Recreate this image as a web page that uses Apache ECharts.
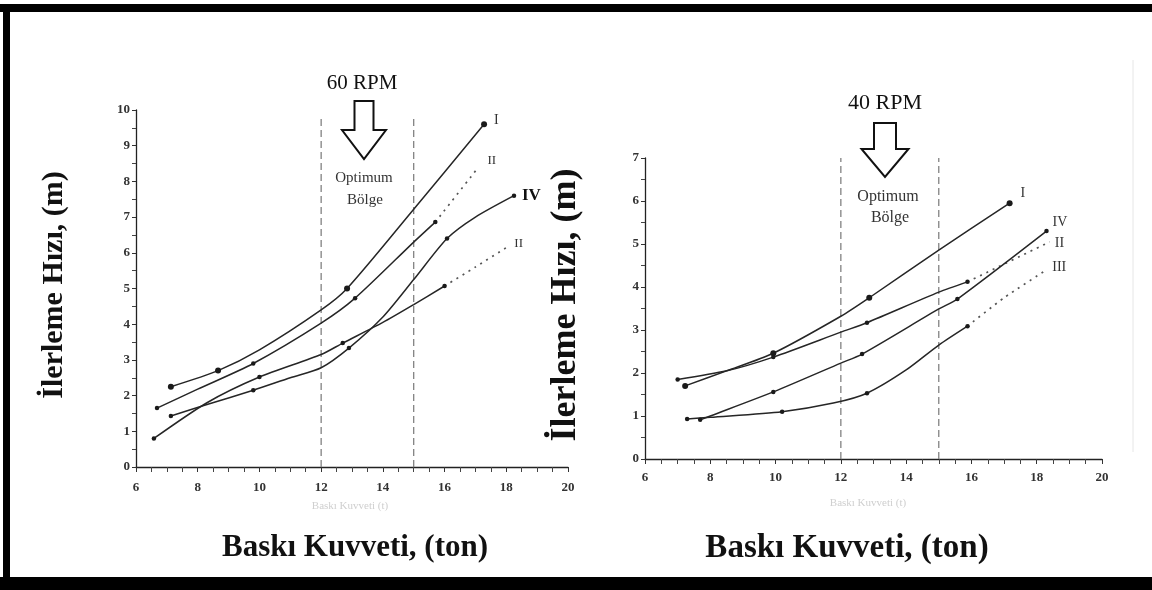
<!DOCTYPE html>
<html>
<head>
<meta charset="utf-8">
<script src="https://cdn.jsdelivr.net/npm/echarts@6/dist/echarts.min.js"></script>
<style>
html,body{margin:0;padding:0;background:#fff}
#c{width:1152px;height:590px}
</style>
</head>
<body>
<div id="c"></div>
<script>
// ---- data: [baskı kuvveti (ton), ilerleme hızı, 1 = measured point] ----
// 60 RPM
const rpm60_I   = [[7.13,2.25,1],[8.66,2.7,1],[10,3.28],[12,4.4],[12.84,5.0,1],[15,7.22],[17.28,9.6,1]];
const rpm60_II  = [[6.68,1.65,1],[8,2.18],[9.8,2.9,1],[12,4.03],[13.1,4.73,1],[15,6.3],[15.7,6.86,1]];
const rpm60_IIx = [[15.7,6.86],[17.1,8.4]];
const rpm60_IV  = [[7.13,1.43,1],[8.3,1.75],[9.8,2.15,1],[11,2.5],[12,2.78],[12.9,3.33,1],[14,4.2],[15,5.25],[16.08,6.4,1],[17,7.0],[18.25,7.6,1]];
const rpm60_II2 = [[6.58,0.8,1],[8.3,1.8],[10,2.52,1],[12,3.15],[12.7,3.47,1],[14,4.05],[15,4.55],[16,5.07,1]];
const rpm60_II2x= [[16,5.07],[17,5.6],[18.1,6.2]];
// 40 RPM
const rpm40_I   = [[7.23,1.7,1],[8.5,2.05],[9.93,2.46,1],[12,3.32],[12.87,3.75,1],[15,4.86],[17.17,5.95,1]];
const rpm40_II  = [[7.0,1.85,1],[8.5,2.05],[9.93,2.37,1],[12,2.95],[12.8,3.17,1],[15,3.88],[15.88,4.12,1]];
const rpm40_IIx = [[15.88,4.12],[18.4,5.05]];
const rpm40_IV  = [[7.69,0.91,1],[8,1.0],[9.93,1.56,1],[12,2.23],[12.65,2.44,1],[15,3.49],[15.57,3.72,1],[18.3,5.3,1]];
const rpm40_III = [[7.29,0.93,1],[8,0.97],[10.2,1.1,1],[11.77,1.3],[12.8,1.53,1],[14,2.07],[15,2.65],[15.88,3.09,1]];
const rpm40_IIIx= [[15.88,3.09],[17,3.75],[18.2,4.35]];

// optimum zone borders and axis ranges
const optimumZone = [12, 15];
const xRange = [6, 20];
const yRange60 = [0, 10];
const yRange40 = [0, 7];
const zoneTop60 = 9.85;

const titles = {
  rpm60: '60 RPM', rpm40: '40 RPM',
  zone: ['Optimum', 'Bölge'],
  xName: 'Baskı Kuvveti, (ton)',
  yName: 'İlerleme Hızı, (m)',
  xFaint: 'Baskı Kuvveti (t)'
};

const SERIF = '"Liberation Serif","DejaVu Serif",serif';
const chart = echarts.init(document.getElementById('c'), null, {renderer: 'canvas'});

function xAxisFor(gi) {
  return {
    type: 'value', gridIndex: gi, min: xRange[0], max: xRange[1], interval: 2,
    axisLine: {lineStyle: {color: '#222', width: 1.3}},
    axisTick: {show: true, length: 5, lineStyle: {color: '#333', width: 1}},
    minorTick: {show: true, splitNumber: 4, length: 5, lineStyle: {color: '#444', width: 1}},
    splitLine: {show: false}, minorSplitLine: {show: false},
    axisLabel: {fontFamily: SERIF, fontSize: 13, fontWeight: 'bold', color: '#333', margin: gi === 0 ? 14 : 12}
  };
}
function yAxisFor(gi, rng) {
  return {
    type: 'value', gridIndex: gi, min: rng[0], max: rng[1], interval: 1,
    axisLine: {show: true, lineStyle: {color: '#222', width: 1.3}},
    axisTick: {show: true, length: 4, lineStyle: {color: '#333', width: 1}},
    minorTick: {show: true, splitNumber: 2, length: 4, lineStyle: {color: '#444', width: 1}},
    splitLine: {show: false}, minorSplitLine: {show: false},
    axisLabel: {fontFamily: SERIF, fontSize: 13, fontWeight: 'bold', color: '#333', margin: 6}
  };
}

function curve(data, gi, size, label, off, lblStyle) {
  const s = {
    type: 'line', xAxisIndex: gi, yAxisIndex: gi, data: data,
    smooth: 0.25, symbol: 'circle',
    symbolSize: v => (v[2] ? size : 0),
    itemStyle: {color: '#1a1a1a'},
    lineStyle: {color: '#262626', width: 1.5},
    z: 5
  };
  if (label) s.endLabel = Object.assign({show: true, formatter: label, distance: 0, offset: off,
    fontFamily: SERIF, fontSize: 14, color: '#333'}, lblStyle || {});
  return s;
}
function extension(data, gi, label, off, lblStyle) {
  const s = {
    type: 'line', xAxisIndex: gi, yAxisIndex: gi, data: data,
    smooth: 0.2, symbol: 'none',
    lineStyle: {color: '#555', width: 1.7, type: [2, 5]},
    z: 4
  };
  if (label) s.endLabel = Object.assign({show: true, formatter: label, distance: 0, offset: off,
    fontFamily: SERIF, fontSize: 14, color: '#333'}, lblStyle || {});
  return s;
}
function zoneLine(x, gi, top) {
  return {
    type: 'line', xAxisIndex: gi, yAxisIndex: gi, data: [[x, 0], [x, top]],
    symbol: 'none', silent: true,
    lineStyle: {color: '#777', width: 1.2, type: [7, 4]}, z: 2
  };
}

const series = [
  zoneLine(optimumZone[0], 0, zoneTop60), zoneLine(optimumZone[1], 0, zoneTop60),
  zoneLine(optimumZone[0], 1, yRange40[1]), zoneLine(optimumZone[1], 1, yRange40[1]),
  curve(rpm60_I, 0, 6, 'I', [10, -4]),
  curve(rpm60_II, 0, 4.5),
  extension(rpm60_IIx, 0, 'II', [9, -7], {fontSize: 13}),
  curve(rpm60_IV, 0, 4.5, 'IV', [8, 0], {fontWeight: 'bold', fontSize: 17, color: '#111'}),
  curve(rpm60_II2, 0, 4.5),
  extension(rpm60_II2x, 0, 'II', [5, -2], {fontSize: 13}),
  curve(rpm40_I, 1, 6, 'I', [11, -10]),
  curve(rpm40_II, 1, 4.5),
  extension(rpm40_IIx, 1, 'II', [5, 1]),
  curve(rpm40_IV, 1, 4.5, 'IV', [6, -9]),
  curve(rpm40_III, 1, 4.5),
  extension(rpm40_IIIx, 1, 'III', [9, -5])
];

function arrow(cx, top, shaftW, headY, headW, tipY) {
  const h = shaftW / 2, H = headW / 2;
  return {
    type: 'polygon', z: 10,
    shape: {points: [[cx - h, top], [cx + h, top], [cx + h, headY], [cx + H, headY], [cx, tipY], [cx - H, headY], [cx - h, headY]]},
    style: {fill: '#fff', stroke: '#111', lineWidth: 2}
  };
}
function txt(x, y, text, size, weight, color, rot) {
  return {
    type: 'text', x: x, y: y, rotation: rot || 0, z: 10,
    style: {text: text, font: (weight || 'normal') + ' ' + size + 'px ' + SERIF,
      fill: color || '#111', align: 'center', verticalAlign: 'middle'}
  };
}

const graphic = [
  // frame
  {type: 'rect', shape: {x: 0, y: 4, width: 1152, height: 8}, style: {fill: '#000'}, z: 20},
  {type: 'rect', shape: {x: 3, y: 4, width: 7, height: 586}, style: {fill: '#000'}, z: 20},
  {type: 'rect', shape: {x: 0, y: 577, width: 1152, height: 13}, style: {fill: '#000'}, z: 20},
  {type: 'line', shape: {x1: 1133, y1: 60, x2: 1133, y2: 452}, style: {stroke: '#e6e6e6', lineWidth: 1}},
  // 60 RPM annotation
  txt(362, 83, titles.rpm60, 21, 'normal', '#111'),
  arrow(364, 101, 19, 130, 44, 159),
  txt(364, 178, titles.zone[0], 15, 'normal', '#333'),
  txt(365, 200, titles.zone[1], 15, 'normal', '#333'),
  // 40 RPM annotation
  txt(885, 103, titles.rpm40, 22, 'normal', '#111'),
  arrow(885, 123, 22, 149, 47, 177),
  txt(888, 197, titles.zone[0], 16, 'normal', '#333'),
  txt(890, 218, titles.zone[1], 16, 'normal', '#333'),
  // faint original axis names
  txt(350, 506, titles.xFaint, 11, 'normal', '#cfcfcf'),
  txt(868, 503, titles.xFaint, 11, 'normal', '#cfcfcf'),
  // axis titles
  txt(355, 548, titles.xName, 31, 'bold', '#111'),
  txt(847, 548, titles.xName, 33, 'bold', '#111'),
  txt(54, 285, titles.yName, 30, 'bold', '#111', Math.PI / 2),
  txt(566, 305, titles.yName, 36, 'bold', '#111', Math.PI / 2)
];

chart.setOption({
  animation: false,
  backgroundColor: '#fff',
  grid: [
    {left: 136, top: 110, width: 432, height: 357},
    {left: 645, top: 158, width: 457, height: 301}
  ],
  xAxis: [xAxisFor(0), xAxisFor(1)],
  yAxis: [yAxisFor(0, yRange60), yAxisFor(1, yRange40)],
  series: series,
  graphic: graphic
});
</script>
</body>
</html>
